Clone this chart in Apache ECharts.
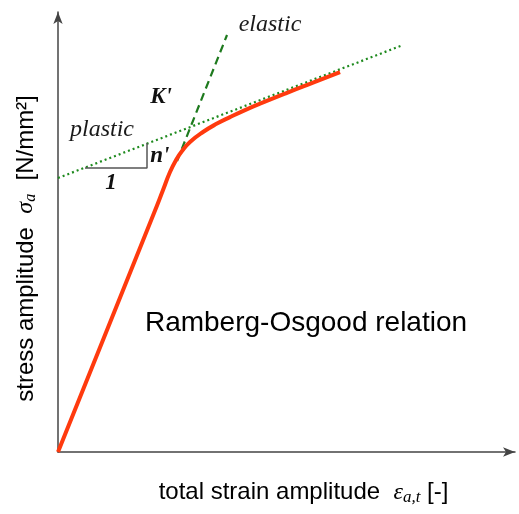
<!DOCTYPE html>
<html>
<head>
<meta charset="utf-8">
<script src="https://cdn.jsdelivr.net/npm/echarts@6/dist/echarts.min.js"></script>
<style>html,body{margin:0;padding:0;background:#fff;}#c{width:519px;height:514px;}</style>
</head>
<body>
<div id="c"></div>
<script>
// Ramberg-Osgood schematic (arbitrary units)
var xMax = 99.56;
var yMax = 99.55;
var curveStrain = [0, 20.92, 22.88, 24.40, 25.71, 27.02, 28.76, 31.59, 34.64, 37.47, 40.74, 44.01, 49.89, 55.56, 61.44];
var curveStress = [0, 54.07, 59.28, 63.35, 66.06, 68.10, 70.14, 72.40, 74.30, 75.77, 77.35, 78.80, 81.27, 83.57, 85.95];
var elasticStrain = [25.93, 36.82];
var elasticStress = [65.84, 94.34];
var plasticStrain = [0, 75.16];
var plasticStress = [61.99, 92.08];
var triStrain = [5.88, 19.39, 19.39];
var triStress = [64.25, 64.25, 69.91];
var labelText = ['elastic', "K'", 'plastic', "n'", '1', 'Ramberg-Osgood relation'];
var labelStrain = [46.19, 22.44, 9.59, 22.2, 11.55, 54.03];
var labelStress = [96.6, 80.32, 72.85, 66.9, 60.86, 29.19];
var labelKind = ['it', 'bi', 'it', 'bi', 'bi', 'sans'];

function zip(a, b) { return a.map(function (v, i) { return [v, b[i]]; }); }

var labelStyles = {
  it: { fontFamily: 'Liberation Serif', fontStyle: 'italic', fontSize: 24, color: '#1a1a1a' },
  bi: { fontFamily: 'Liberation Serif', fontStyle: 'italic', fontWeight: 'bold', fontSize: 23, color: '#111' },
  sans: { fontFamily: 'Liberation Sans', fontSize: 28, color: '#000' }
};

var labelData = labelText.map(function (t, i) {
  return {
    value: [labelStrain[i], labelStress[i]],
    label: Object.assign({ show: true, position: 'inside', formatter: t, opacity: 1 }, labelStyles[labelKind[i]])
  };
});

var chart = echarts.init(document.getElementById('c'), null, { renderer: 'canvas' });
chart.setOption({
  animation: false,
  backgroundColor: '#fff',
  grid: { left: 58, right: 4, top: 12, bottom: 62, containLabel: false, outerBoundsMode: 'none' },
  xAxis: {
    type: 'value', min: 0, max: xMax,
    axisLine: { show: true, onZero: false, symbol: ['none', 'arrow'], symbolSize: [7, 12], lineStyle: { color: '#444', width: 1.5 } },
    axisTick: { show: false }, axisLabel: { show: false }, splitLine: { show: false },
    name: '{n|total strain amplitude  }{e|ε}{s|a,t}{n| [-]}',
    nameLocation: 'middle', nameGap: 27,
    nameTextStyle: {
      padding: [0, 0, 0, 34],
      rich: {
        n: { fontFamily: 'Liberation Sans', fontSize: 24, color: '#000' },
        e: { fontFamily: 'Liberation Serif', fontStyle: 'italic', fontSize: 24, color: '#000' },
        s: { fontFamily: 'Liberation Serif', fontStyle: 'italic', fontSize: 17, color: '#000', padding: [10, 0, 0, 0] }
      }
    }
  },
  yAxis: {
    type: 'value', min: 0, max: yMax,
    axisLine: { show: true, onZero: false, symbol: ['none', 'arrow'], symbolSize: [7, 12], lineStyle: { color: '#444', width: 1.5 } },
    axisTick: { show: false }, axisLabel: { show: false }, splitLine: { show: false },
    name: '{n|stress amplitude  }{e|σ}{s|a}{n|  [N/mm²]}',
    nameLocation: 'middle', nameGap: 19,
    nameTextStyle: {
      padding: [0, 33, 0, 0],
      rich: {
        n: { fontFamily: 'Liberation Sans', fontSize: 24, color: '#000' },
        e: { fontFamily: 'Liberation Serif', fontStyle: 'italic', fontSize: 24, color: '#000' },
        s: { fontFamily: 'Liberation Serif', fontStyle: 'italic', fontSize: 16, color: '#000', padding: [10, 0, 0, 0] }
      }
    }
  },
  series: [
    { type: 'line', data: zip(plasticStrain, plasticStress), symbol: 'none', lineStyle: { color: '#1e8a1e', width: 2.2, type: [2, 3] }, z: 2 },
    { type: 'line', data: zip(elasticStrain, elasticStress), symbol: 'none', lineStyle: { color: '#1e7a1e', width: 2.2, type: [8, 5] }, z: 2 },
    { type: 'line', data: zip(triStrain, triStress), symbol: 'none', lineStyle: { color: '#555', width: 1.5 }, z: 2 },
    { type: 'line', data: zip(curveStrain, curveStress), symbol: 'none', smooth: 0.5, lineStyle: { color: '#ff3a0e', width: 4 }, z: 3 },
    { type: 'scatter', data: labelData, symbolSize: 0, itemStyle: { opacity: 1 }, z: 4, silent: true }
  ]
});
</script>
</body>
</html>
